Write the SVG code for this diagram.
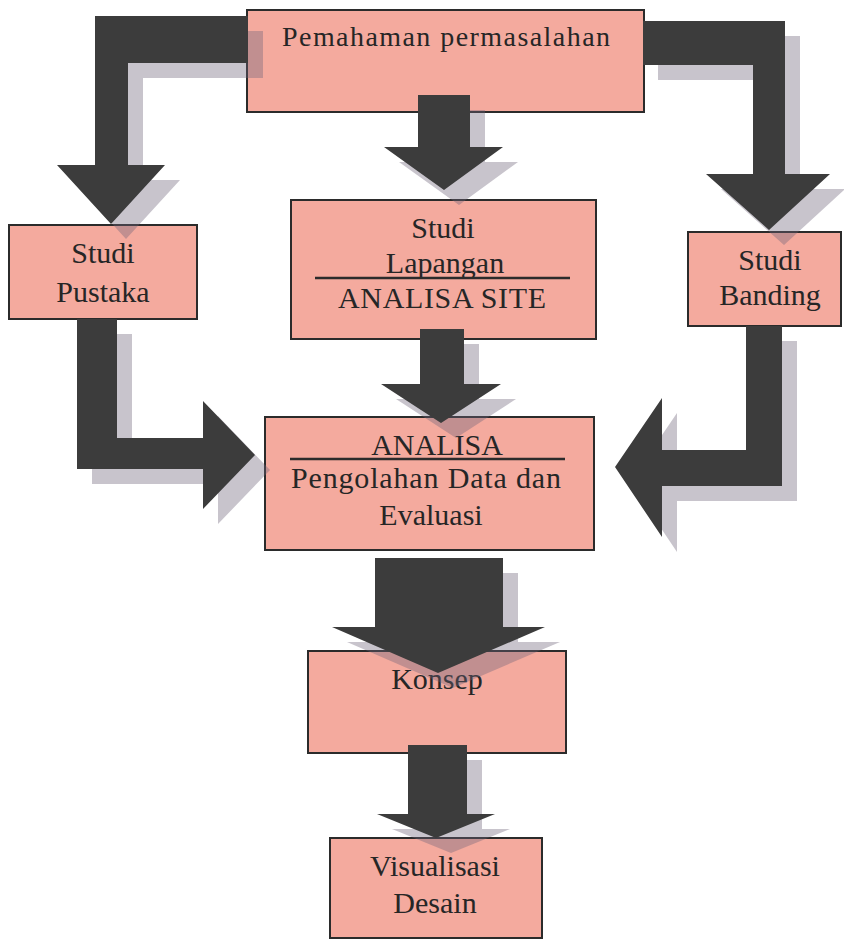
<svg xmlns="http://www.w3.org/2000/svg" xmlns:xlink="http://www.w3.org/1999/xlink" width="844" height="940" viewBox="0 0 844 940">
  <style>
    .box { fill: #f4aa9e; stroke: #2b2b2b; stroke-width: 2; }
    .lbl { font-family: 'Liberation Serif', 'DejaVu Serif', serif; font-size: 30px; fill: #262626; text-anchor: middle; }
    .rule { stroke: #2b2b2b; stroke-width: 2.5; }
    .arrow { fill: #3c3c3c; }
    .shadow { fill: #6e6478; fill-opacity: 0.38; }
  </style>
  <defs>
    <!-- block-arrow outlines, each used once as shadow and once as solid -->
    <path id="a-top-left" d="M248,16 H95 V165 H57 L111,224 L165,165 H128 V63 H248 Z"/>
    <path id="a-top-right" d="M643,21 H785 V174 H830 L769,230 L706,174 H753 V65 H643 Z"/>
    <path id="a-top-mid" d="M418,95 H470 V147 H503 L444,190 L384,147 H418 Z"/>
    <path id="a-site" d="M420,329 H464 V384 H501 L441,423 L381,384 H420 Z"/>
    <path id="a-pustaka" d="M77,319 H117 V438 H203 V401 L255,455 L203,509 V469 H77 Z"/>
    <path id="a-banding" d="M782,326 V486 H662 V537 L615,467 L662,398 V450 H746 V326 Z"/>
    <path id="a-analisa" d="M375,558 H503 V627 H545 L438,673 L332,627 H375 Z"/>
    <path id="a-konsep" d="M408,745 H467 V814 H495 L436,838 L377,814 H408 Z"/>
  </defs>

  <rect width="844" height="940" fill="#ffffff"/>

  <!-- nodes -->
  <g id="node-pemahaman">
    <rect class="box" x="247" y="10" width="397" height="102"/>
    <text class="lbl" x="446" y="46" font-family="Liberation Serif, serif" textLength="328" lengthAdjust="spacing" style="font-size:28px">Pemahaman permasalahan</text>
  </g>
  <g id="node-pustaka">
    <rect class="box" x="9" y="225" width="188" height="94"/>
    <text class="lbl" x="103" y="263">Studi</text>
    <text class="lbl" x="103" y="302">Pustaka</text>
  </g>
  <g id="node-lapangan">
    <rect class="box" x="291" y="200" width="305" height="139"/>
    <text class="lbl" x="443" y="238">Studi</text>
    <text class="lbl" x="445" y="273">Lapangan</text>
    <line class="rule" x1="315" y1="278" x2="570" y2="278"/>
    <text class="lbl" x="442" y="308" textLength="208" lengthAdjust="spacing">ANALISA SITE</text>
  </g>
  <g id="node-banding">
    <rect class="box" x="688" y="232" width="153" height="94"/>
    <text class="lbl" x="770" y="270">Studi</text>
    <text class="lbl" x="770" y="305">Banding</text>
  </g>
  <g id="node-analisa">
    <rect class="box" x="265" y="417" width="329" height="133"/>
    <text class="lbl" x="437" y="455">ANALISA</text>
    <line class="rule" x1="290" y1="459" x2="565" y2="459"/>
    <text class="lbl" x="426" y="488" textLength="270" lengthAdjust="spacing">Pengolahan Data dan</text>
    <text class="lbl" x="431" y="525">Evaluasi</text>
  </g>
  <g id="node-konsep">
    <rect class="box" x="308" y="651" width="258" height="102"/>
    <text class="lbl" x="437" y="689">Konsep</text>
  </g>
  <g id="node-visualisasi">
    <rect class="box" x="330" y="838" width="212" height="100"/>
    <text class="lbl" x="435" y="876">Visualisasi</text>
    <text class="lbl" x="435" y="913">Desain</text>
  </g>

  <!-- connectors: drop shadows first, then the solid block arrows -->
  <g id="connectors">
    <g id="shadows" transform="translate(15,15)">
      <use class="shadow" href="#a-top-left" xlink:href="#a-top-left"/>
      <use class="shadow" href="#a-top-right" xlink:href="#a-top-right"/>
      <use class="shadow" href="#a-top-mid" xlink:href="#a-top-mid"/>
      <use class="shadow" href="#a-site" xlink:href="#a-site"/>
      <use class="shadow" href="#a-pustaka" xlink:href="#a-pustaka"/>
      <use class="shadow" href="#a-banding" xlink:href="#a-banding"/>
      <use class="shadow" href="#a-analisa" xlink:href="#a-analisa"/>
      <use class="shadow" href="#a-konsep" xlink:href="#a-konsep"/>
    </g>
    <use id="edge-pemahaman-pustaka" class="arrow" href="#a-top-left" xlink:href="#a-top-left"/>
    <use id="edge-pemahaman-banding" class="arrow" href="#a-top-right" xlink:href="#a-top-right"/>
    <use id="edge-pemahaman-lapangan" class="arrow" href="#a-top-mid" xlink:href="#a-top-mid"/>
    <use id="edge-lapangan-analisa" class="arrow" href="#a-site" xlink:href="#a-site"/>
    <use id="edge-pustaka-analisa" class="arrow" href="#a-pustaka" xlink:href="#a-pustaka"/>
    <use id="edge-banding-analisa" class="arrow" href="#a-banding" xlink:href="#a-banding"/>
    <use id="edge-analisa-konsep" class="arrow" href="#a-analisa" xlink:href="#a-analisa"/>
    <use id="edge-konsep-visualisasi" class="arrow" href="#a-konsep" xlink:href="#a-konsep"/>
  </g>
</svg>
